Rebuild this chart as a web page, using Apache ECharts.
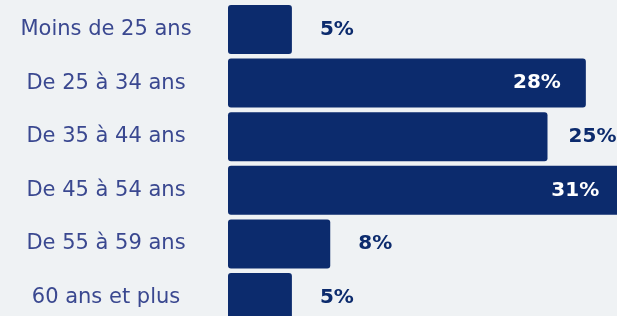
<!DOCTYPE html>
<html><head><meta charset="utf-8">
<script src="https://cdn.jsdelivr.net/npm/echarts@6/dist/echarts.min.js"></script>
<style>html,body{margin:0;padding:0;background:#eff2f4;}#c{width:617px;height:316px;}</style>
</head><body><div id="c"></div>
<script>
const categories = ["Moins de 25 ans","De 25 à 34 ans","De 35 à 44 ans","De 45 à 54 ans","De 55 à 59 ans","60 ans et plus"];
const values = [5, 28, 25, 31, 8, 5];
const insideThreshold = 28;

const navy = '#0c2b6d';
const chart = echarts.init(document.getElementById('c'), null, {renderer:'canvas'});
const data = values.map(v => ({
  value: v,
  label: v >= insideThreshold
    ? {position:'insideRight', distance:25, color:'#ffffff'}
    : {position:'right', distance:45, align:'center', color:navy}
}));
chart.setOption({
  backgroundColor:'#eff2f4',
  animation:false,
  grid:{left:228, top:2.7, width:511.2, height:321.6, containLabel:false, outerBoundsMode:'none'},
  xAxis:{type:'value', min:0, max:40, show:false},
  yAxis:{type:'category', data:categories, inverse:true,
    axisLine:{show:false}, axisTick:{show:false}, splitLine:{show:false},
    axisLabel:{margin:122, align:'center', color:'#3a4890', fontSize:21, fontFamily:'DejaVu Sans', fontWeight:400}},
  series:[{type:'bar', data:data, barCategoryGap:'8.6%',
    itemStyle:{color:navy, borderRadius:3},
    label:{show:true, formatter:'{c}%', fontSize:20, fontWeight:'bold', fontFamily:'DejaVu Sans'}}]
});
</script></body></html>
